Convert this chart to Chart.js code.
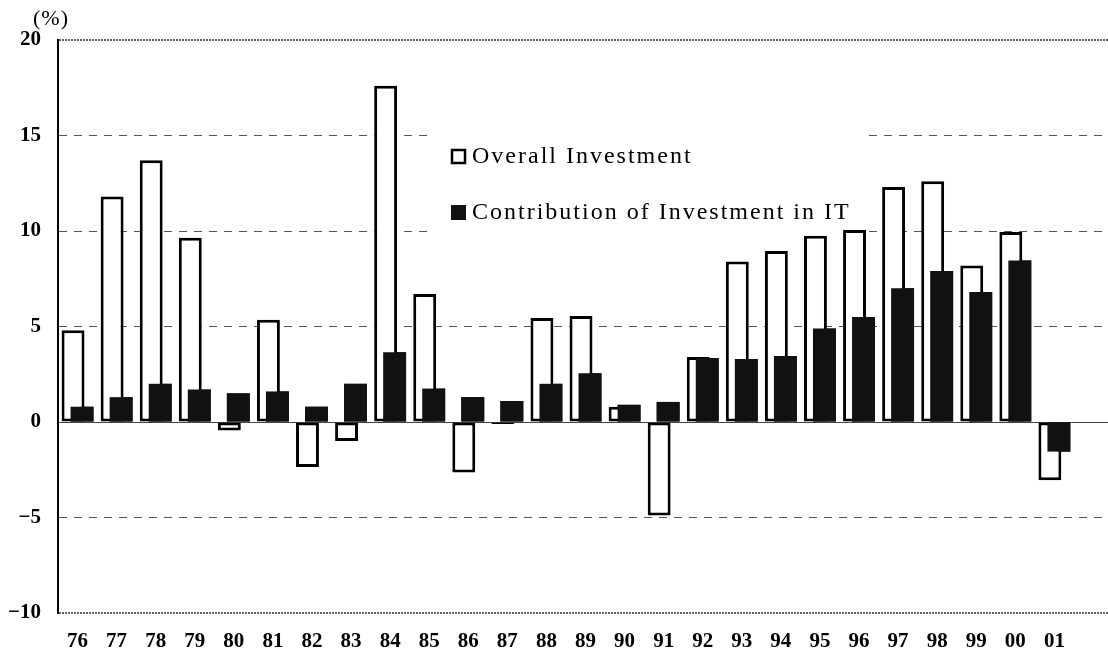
<!DOCTYPE html>
<html>
<head>
<meta charset="utf-8">
<script src="https://cdn.jsdelivr.net/npm/chart.js@4.4.1/dist/chart.umd.min.js"></script>
<style>
  html, body { margin: 0; padding: 0; background: #fff; overflow: hidden; }
  #wrap { position: relative; width: 1114px; height: 652px; }
</style>
</head>
<body>
<div id="wrap"><canvas id="chart"></canvas></div>
<script>
// Japan: growth of overall investment vs contribution of IT investment (%)
const years = ["76", "77", "78", "79", "80", "81", "82", "83", "84", "85", "86", "87", "88",
               "89", "90", "91", "92", "93", "94", "95", "96", "97", "98", "99", "00", "01"];

const overallInvestment = [4.8, 11.8, 13.7, 9.65, -0.45, 5.35, -2.35, -1.0, 17.6, 6.7, -2.65, -0.1, 5.45,
                           5.55, 0.8, -4.9, 3.4, 8.4, 8.95, 9.75, 10.05, 12.3, 12.6, 8.2, 9.95, -3.05];

const itContribution = [0.8, 1.3, 2.0, 1.7, 1.5, 1.6, 0.8, 2.0, 3.65, 1.75, 1.3, 1.1, 2.0,
                        2.55, 0.9, 1.05, 3.35, 3.3, 3.45, 4.9, 5.5, 7.0, 7.9, 6.8, 8.45, -1.55];

const yMin = -10;
const yMax = 20;
const yStep = 5;

const serif = '"Liberation Serif", "Times New Roman", serif';

// one spare empty slot on the right, the plot runs past the last year
const labels = years.concat([""]);

// white box behind the legend, hides the gridlines there
const legendBox = {
  id: "legendBox",
  beforeDatasetsDraw(chart) {
    const ctx = chart.ctx;
    ctx.save();
    ctx.fillStyle = "#fff";
    ctx.fillRect(430, 124, 437, 116);
    ctx.restore();
  },
  afterDatasetsDraw(chart) {
    // Chart.js paints dataset 0 last, the IT bars have to sit on top
    const ctx = chart.ctx;
    const area = chart.chartArea;
    ctx.save();
    ctx.beginPath();
    ctx.rect(area.left, area.top, area.right - area.left, area.bottom - area.top);
    ctx.clip();
    chart.getDatasetMeta(1).data.forEach(el => el.draw(ctx));
    ctx.restore();
  },
  afterDraw(chart) {
    const ctx = chart.ctx;
    const ds = chart.data.datasets;
    ctx.save();

    // unit label
    ctx.fillStyle = "#000";
    ctx.font = "22px " + serif;
    ctx.letterSpacing = "1px";
    ctx.textAlign = "center";
    ctx.textBaseline = "middle";
    ctx.fillText("(%)", 51, 19);

    // legend rows
    const rows = [
      { y: 156, fill: "#fff", stroke: true },
      { y: 212, fill: "#111", stroke: false }
    ];
    rows.forEach((r, i) => {
      ctx.fillStyle = r.fill;
      ctx.fillRect(451, r.y - 7, 15, 15);
      if (r.stroke) {
        ctx.strokeStyle = "#000";
        ctx.lineWidth = 2.5;
        ctx.strokeRect(452, r.y - 6, 13, 13);
      }
      ctx.fillStyle = "#000";
      ctx.font = "24px " + serif;
      ctx.letterSpacing = "2px";
      ctx.textAlign = "left";
      ctx.textBaseline = "middle";
      ctx.fillText(ds[i].label, 472, r.y + 1);
    });
    ctx.restore();
  }
};

const lineDash = (ctx) => {
  const v = ctx.tick ? ctx.tick.value : null;
  if (v === 0) return [];
  if (v === yMin || v === yMax) return [2, 1];
  return [8, 7];
};

const chart = new Chart(document.getElementById("chart"), {
  type: "bar",
  data: {
    labels: labels,
    datasets: [
      {
        label: "Overall Investment",
        data: overallInvestment,
        backgroundColor: "#fff",
        borderColor: "#000",
        borderWidth: 3,
        borderSkipped: false
      },
      {
        label: "Contribution of Investment in IT",
        data: itContribution,
        backgroundColor: "#111",
        borderColor: "#000",
        borderWidth: 0,
        borderSkipped: false
      }
    ]
  },
  options: {
    responsive: true,
    maintainAspectRatio: false,
    animation: false,
    categoryPercentage: 0.46,
    barPercentage: 2.55,
    layout: { padding: { top: 40, right: 1, bottom: 0, left: 0 } },
    plugins: {
      legend: { display: false },
      tooltip: { enabled: false }
    },
    scales: {
      x: {
        grid: { display: false, drawTicks: false },
        border: { display: false },
        ticks: {
          color: "#000",
          padding: 16,
          maxRotation: 0,
          autoSkip: false,
          font: { family: serif, size: 21, weight: "bold" }
        },
        afterFit(scale) { scale.height = 39; }
      },
      y: {
        min: yMin,
        max: yMax,
        ticks: {
          stepSize: yStep,
          color: "#000",
          padding: 17,
          font: { family: serif, size: 21, weight: "bold" },
          callback: (v) => String(v).replace("-", "\u2212")
        },
        grid: {
          drawTicks: false,
          color: (ctx) => {
            const v = ctx.tick ? ctx.tick.value : null;
            if (v === 0) return "#444";
            if (v === yMin || v === yMax) return "#666";
            return "#555";
          },
          lineWidth: (ctx) => {
            const v = ctx.tick ? ctx.tick.value : null;
            return (v === yMin || v === yMax) ? 2 : 1;
          }
        },
        border: { display: true, color: "#000", width: 2, dash: lineDash },
        afterFit(scale) { scale.width = 58; }
      }
    }
  },
  plugins: [legendBox]
});
</script>
</body>
</html>
